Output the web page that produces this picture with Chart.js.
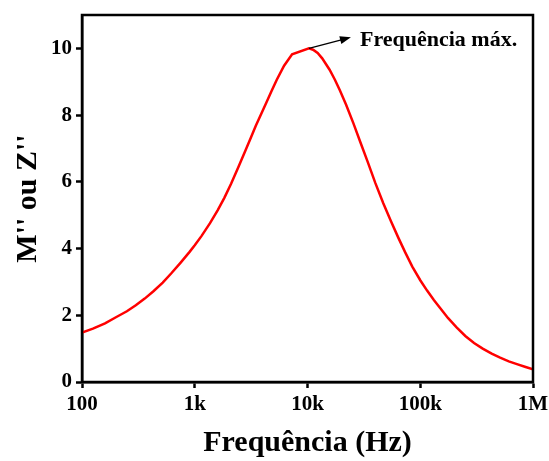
<!DOCTYPE html>
<html>
<head>
<meta charset="utf-8">
<script src="https://cdn.jsdelivr.net/npm/chart.js@4"></script>
<style>
  html, body { margin: 0; padding: 0; background: #fff; }
  #wrap { width: 549px; height: 461px; }
</style>
</head>
<body>
<div id="wrap"><canvas id="chart"></canvas></div>
<script>
// dados
const frequencias = [100, 125, 160, 200, 250, 300, 360, 430, 520, 620, 750, 900, 1000, 1150, 1366, 1600, 1830,
  2100, 2450, 2810, 3150, 3480, 3900, 4310, 4800, 5340, 6200, 7300,
  10300, 11200, 12300, 13500, 15700, 17500, 19400, 22000, 25500, 29500, 34000, 40000, 47000, 55000, 64000,
  73200, 85000, 100000, 115000, 132000, 150000, 176000, 210000, 251000, 300000, 358000, 430000, 511000,
  610000, 731000, 860000, 1000000]
const valores = [1.48, 1.60, 1.76, 1.94, 2.12, 2.30, 2.50, 2.72, 2.98, 3.26, 3.58, 3.90, 4.10, 4.38, 4.76, 5.15, 5.52,
  5.94, 6.46, 6.93, 7.33, 7.68, 8.05, 8.37, 8.72, 9.06, 9.48, 9.82,
  10.0, 9.96, 9.86, 9.70, 9.36, 9.06, 8.74, 8.31, 7.76, 7.18, 6.62, 5.96, 5.36, 4.82, 4.32,
  3.90, 3.46, 3.05, 2.74, 2.46, 2.22, 1.92, 1.64, 1.38, 1.17, 1.00, 0.85, 0.73,
  0.62, 0.53, 0.45, 0.38]
const xTicks = [100, 1000, 10000, 100000, 1000000]
const xTickLabels = ['100', '1k', '10k', '100k', '1M']
const yTicks = [0, 2, 4, 6, 8, 10]
const anotacao = 'Frequência máx.'

const serif = "'Liberation Serif', 'Times New Roman', serif"

const pontos = frequencias.map((f, i) => ({ x: f, y: valores[i] }))

// moldura + seta do máximo
const extras = {
  id: 'extras',
  afterDraw(chart) {
    const { ctx, chartArea: a, scales } = chart
    ctx.save()
    ctx.strokeStyle = '#000'
    ctx.lineWidth = 2.5
    ctx.strokeRect(a.left, a.top, a.right - a.left, a.bottom - a.top)

    let iMax = 0
    valores.forEach((v, i) => { if (v > valores[iMax]) iMax = i })
    const px = scales.x.getPixelForValue(frequencias[iMax])
    const py = scales.y.getPixelForValue(valores[iMax])
    const ex = px + 42, ey = py - 11
    const ang = Math.atan2(ey - py, ex - px)
    ctx.lineWidth = 1.5
    ctx.beginPath()
    ctx.moveTo(px, py)
    ctx.lineTo(ex - 6 * Math.cos(ang), ey - 6 * Math.sin(ang))
    ctx.stroke()
    ctx.fillStyle = '#000'
    ctx.beginPath()
    ctx.moveTo(ex, ey)
    ctx.lineTo(ex - 11 * Math.cos(ang) + 4 * Math.sin(ang), ey - 11 * Math.sin(ang) - 4 * Math.cos(ang))
    ctx.lineTo(ex - 11 * Math.cos(ang) - 4 * Math.sin(ang), ey - 11 * Math.sin(ang) + 4 * Math.cos(ang))
    ctx.closePath()
    ctx.fill()

    ctx.font = 'bold 22px ' + serif
    ctx.textBaseline = 'middle'
    ctx.textAlign = 'left'
    ctx.fillText(anotacao, ex + 9, ey + 3)
    ctx.restore()
  }
}

new Chart(document.getElementById('chart'), {
  type: 'line',
  data: {
    datasets: [{
      data: pontos,
      borderColor: '#ff0000',
      borderWidth: 2.5,
      pointRadius: 0,
      tension: 0,
      fill: false
    }]
  },
  options: {
    responsive: true,
    maintainAspectRatio: false,
    animation: false,
    layout: { padding: { top: 15, right: 16, bottom: 0, left: 0 } },
    plugins: { legend: { display: false }, tooltip: { enabled: false } },
    scales: {
      x: {
        type: 'logarithmic',
        min: 100,
        max: 1000000,
        afterBuildTicks: (s) => { s.ticks = xTicks.map(v => ({ value: v })) },
        afterFit: (s) => { s.height = 79; s.paddingLeft = 0; s.paddingRight = 0 },
        ticks: {
          autoSkip: false,
          maxRotation: 0,
          padding: 4,
          color: '#000',
          font: { family: serif, size: 21, weight: 'bold' },
          callback: (v) => xTickLabels[xTicks.indexOf(v)]
        },
        grid: { drawOnChartArea: false, tickLength: 6, tickColor: '#000', tickWidth: 2.5 },
        border: { color: '#000', width: 2.5 },
        title: {
          display: true,
          text: 'Frequência (Hz)',
          color: '#000',
          padding: 0,
          font: { family: serif, size: 30, weight: 'bold' }
        }
      },
      y: {
        min: 0,
        max: 11,
        afterBuildTicks: (s) => { s.ticks = yTicks.map(v => ({ value: v })) },
        afterFit: (s) => { s.width = 82; s.paddingTop = 0; s.paddingBottom = 0 },
        ticks: {
          padding: 4,
          color: '#000',
          font: { family: serif, size: 21, weight: 'bold' }
        },
        grid: { drawOnChartArea: false, tickLength: 6, tickColor: '#000', tickWidth: 2.5 },
        border: { color: '#000', width: 2.5 },
        title: {
          display: true,
          text: "M'' ou Z''",
          color: '#000',
          padding: { top: 10, bottom: 0 },
          font: { family: serif, size: 30, weight: 'bold' }
        }
      }
    }
  },
  plugins: [extras]
})
</script>
</body>
</html>
